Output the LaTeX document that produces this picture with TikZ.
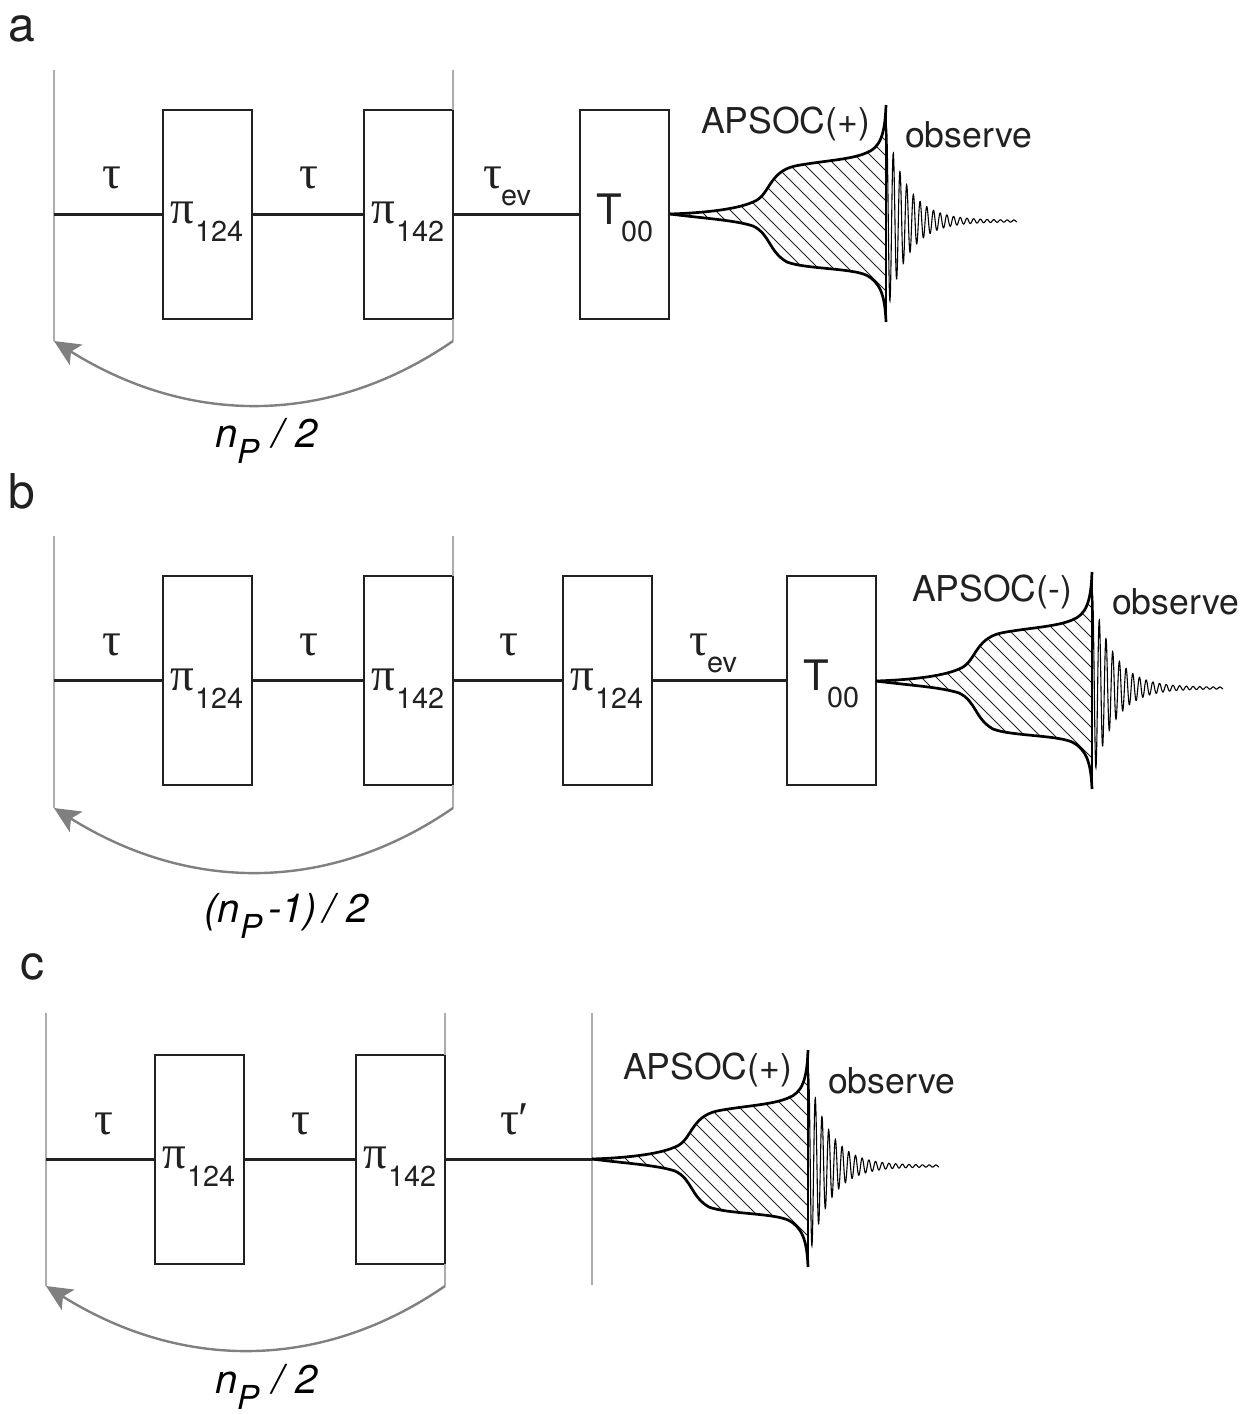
\documentclass[tikz,border=0pt]{standalone}
\usepackage{fontspec}
\setmainfont{TeX Gyre Heros}
\newfontfamily\grk{Liberation Serif}
\usetikzlibrary{arrows.meta}
\definecolor{ink}{gray}{0.13}
\definecolor{loopg}{gray}{0.5}
\definecolor{railg}{gray}{0.68}
\tikzset{
  x=0.5pt,y=-0.5pt,
  pbox/.style={draw=ink,line width=1.1pt,minimum width=44.5pt,minimum height=104.5pt,inner sep=0pt,outer sep=0pt},
  seq/.style={draw=ink,line width=1.1pt},
  rail/.style={draw=railg,line width=0.7pt},
  loopa/.style={draw=loopg,line width=1.2pt,-{Stealth[length=13pt,width=12pt,inset=3pt]}},
  txt/.style={anchor=base west,inner sep=0pt,outer sep=0pt,text=ink},
  panel/.style={txt,font=\fontsize{24}{24}\selectfont},
  gk/.style={txt,font=\fontsize{23.5}{24}\selectfont\grk},
  sub/.style={txt,font=\fontsize{14.4}{15}\selectfont},
  big/.style={txt,font=\fontsize{17.8}{18}\selectfont},
  tee/.style={txt,font=\fontsize{21}{22}\selectfont},
  ital/.style={txt,font=\fontsize{20}{20}\selectfont\itshape,text=black},
  italsub/.style={txt,font=\fontsize{16.5}{17}\selectfont\itshape,text=black},
}
\newcommand{\apsoc}[2]{%
\begin{scope}[shift={(#1,#2)}]
  \begin{scope}
    \clip (670,214) .. controls (700,213) and (735,210) .. (753,202)
      .. controls (770,196) and (768,172) .. (795,166)
      .. controls (820,161) and (850,160) .. (866,153)
      .. controls (878,148) and (883,140) .. (886,118)
      -- (886,300)
      .. controls (883,290) and (880,282) .. (866,275)
      .. controls (850,268) and (805,269) .. (787,262)
      .. controls (769,252) and (770,234) .. (753,226)
      .. controls (735,220) and (700,218) .. (670,214) -- cycle;
    \foreach \k in {0,...,32}
      \draw[ink,line width=0.45pt] ({395+15*\k},100) -- ++(240,240);
  \end{scope}
  \draw[black,line width=1.35pt] (670,214) .. controls (700,213) and (735,210) .. (753,202)
      .. controls (770,196) and (768,172) .. (795,166)
      .. controls (820,161) and (850,160) .. (866,153)
      .. controls (880,148) and (885,135) .. (886,105);
  \draw[black,line width=1.35pt] (670,214) .. controls (700,218) and (735,220) .. (753,226)
      .. controls (770,234) and (769,252) .. (787,262)
      .. controls (805,269) and (850,268) .. (866,275)
      .. controls (880,282) and (885,295) .. (886,322);
  \draw[black,line width=1.4pt] (886,105) -- (886,322);
  \draw[black,line width=0.55pt,domain=0:131,samples=700,smooth]
    plot ({886+\x},{221-(95*exp(-\x/21)+0.8)*cos(53.73*(\x-7.3))});
\end{scope}}
\begin{document}
\begin{tikzpicture}
\useasboundingbox (0,0) rectangle (1242,1414);
% ---------- panel a
\node[panel] (la) at (9,41) {a};
\node[pbox] (a1) at (207.5,214.5) {};
\node[pbox] (a2) at (408.5,214.5) {};
\node[pbox] (a3) at (624.5,214.5) {};
\coordinate (a0) at (54,214.5);
\coordinate (abl) at (54,341);
\coordinate (abr) at (453,341);
\coordinate (atl) at (54,70);
\coordinate (atr) at (453,70);
\draw[rail] (atl) -- (abl);
\draw[rail] (atr) -- (a2.north east);
\draw[rail] (a2.south east) -- (abr);
\draw[seq] (a0) -- (a1.west);
\draw[seq] (a1.east) -- (a2.west);
\draw[seq] (a2.east) -- (a3.west);
\draw[loopa] (abr) .. controls (330,426) and (190,426) .. (abl);
\node[gk] (at1) at (102,188) {τ};
\node[gk] (at2) at (299,188) {τ};
\node[gk] (at3) at (483,188) {τ};
\node[sub] (aev) at (501,205) {ev};
\node[gk] (ap1) at (170,223) {π};
\node[sub] (as1) at (195,241) {124};
\node[gk] (ap2) at (371,223) {π};
\node[sub] (as2) at (396,241) {142};
\node[tee] (aT) at (596,224) {T};
\node[sub] (as3) at (621,241) {00};
\node[big] (aA) at (701,133) {APSOC(+)};
\node[big] (aO) at (905,147) {observe};
\node[ital] (an) at (215,447) {n};
\node[italsub] (aP) at (237,463) {P};
\node[ital] (an2) at (272,447) {/\kern0.7pt{} 2};
\apsoc{0}{0}
% ---------- panel b
\node[panel] (lb) at (9,508) {b};
\node[pbox] (b1) at (207.5,680.5) {};
\node[pbox] (b2) at (408.5,680.5) {};
\node[pbox] (b3) at (607.5,680.5) {};
\node[pbox] (b4) at (831.5,680.5) {};
\coordinate (b0) at (54,680.5);
\coordinate (bbl) at (54,808);
\coordinate (bbr) at (453,808);
\coordinate (btl) at (54,536);
\coordinate (btr) at (453,536);
\draw[rail] (btl) -- (bbl);
\draw[rail] (btr) -- (b2.north east);
\draw[rail] (b2.south east) -- (bbr);
\draw[seq] (b0) -- (b1.west);
\draw[seq] (b1.east) -- (b2.west);
\draw[seq] (b2.east) -- (b3.west);
\draw[seq] (b3.east) -- (b4.west);
\draw[loopa] (bbr) .. controls (330,893) and (190,893) .. (bbl);
\node[gk] (bt1) at (102,655) {τ};
\node[gk] (bt2) at (299,655) {τ};
\node[gk] (bt3) at (499,655) {τ};
\node[gk] (bt4) at (689,655) {τ};
\node[sub] (bev) at (707,672) {ev};
\node[gk] (bp1) at (170,690) {π};
\node[sub] (bs1) at (195,708) {124};
\node[gk] (bp2) at (371,690) {π};
\node[sub] (bs2) at (396,708) {142};
\node[gk] (bp3) at (570,690) {π};
\node[sub] (bs3) at (595,708) {124};
\node[tee] (bT) at (803,690) {T};
\node[sub] (bs4) at (827,707) {00};
\node[big] (bA) at (912,601) {APSOC(-)};
\node[big] (bO) at (1112,614) {observe};
\node[ital] (bn) at (204,922) {(n};
\node[italsub] (bP) at (240,938) {P};
\node[ital] (bn2) at (268,922) {-1)};
\node[ital] (bn3) at (323,922) {/\kern0.7pt{} 2};
\apsoc{206}{467}
% ---------- panel c
\node[panel] (lc) at (20,979) {c};
\node[pbox] (c1) at (199.5,1159.5) {};
\node[pbox] (c2) at (400.5,1159.5) {};
\coordinate (c0) at (46,1159.5);
\coordinate (c3) at (592,1159.5);
\coordinate (cbl) at (46,1286);
\coordinate (cbr) at (445,1286);
\coordinate (ctl) at (46,1013);
\coordinate (ctr) at (445,1013);
\coordinate (cst) at (592,1013);
\coordinate (csb) at (592,1285);
\draw[rail] (ctl) -- (cbl);
\draw[rail] (ctr) -- (c2.north east);
\draw[rail] (c2.south east) -- (cbr);
\draw[rail] (cst) -- (csb);
\draw[seq] (c0) -- (c1.west);
\draw[seq] (c1.east) -- (c2.west);
\draw[seq] (c2.east) -- (c3);
\draw[loopa] (cbr) .. controls (322,1371) and (182,1371) .. (cbl);
\node[gk] (ct1) at (94,1134) {τ};
\node[gk] (ct2) at (291,1134) {τ};
\node[gk] (ct3) at (500,1134) {τ′};
\node[gk] (cp1) at (162,1168) {π};
\node[sub] (cs1) at (187,1186) {124};
\node[gk] (cp2) at (363,1168) {π};
\node[sub] (cs2) at (388,1186) {142};
\node[big] (cA) at (623,1079) {APSOC(+)};
\node[big] (cO) at (828,1093) {observe};
\node[ital] (cn) at (215,1393) {n};
\node[italsub] (cP) at (237,1409) {P};
\node[ital] (cn2) at (272,1393) {/\kern0.7pt{} 2};
\apsoc{-78}{945}
\end{tikzpicture}
\end{document}
